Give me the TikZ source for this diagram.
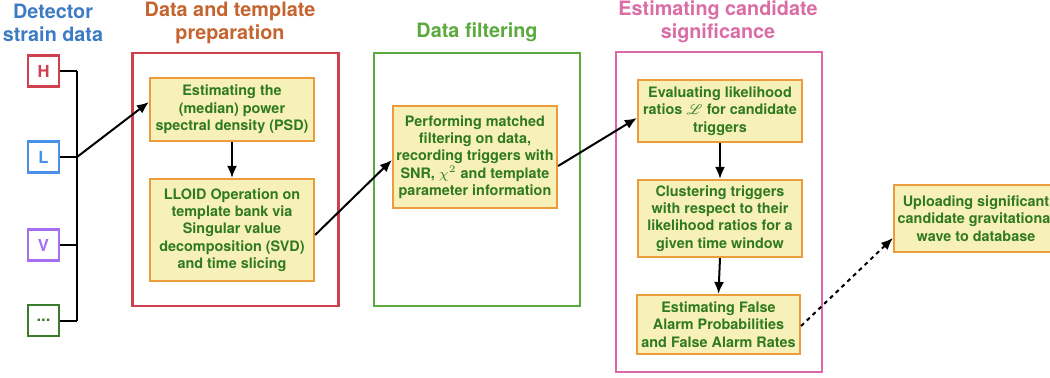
\documentclass[tikz,border=0pt]{standalone}
\usepackage{fontspec}
\setmainfont{TeX Gyre Heros}
\usepackage{mathrsfs}
\usetikzlibrary{arrows.meta}
\definecolor{tblue}{HTML}{3D7CC4}
\definecolor{torange}{HTML}{C5642E}
\definecolor{tgreen}{HTML}{5BAA3E}
\definecolor{tpink}{HTML}{DB6DA6}
\definecolor{gred}{HTML}{D0404F}
\definecolor{gpink}{HTML}{D968A6}
\definecolor{dblue}{HTML}{4A8FE8}
\definecolor{dpurple}{HTML}{A66EF0}
\definecolor{dgreen}{HTML}{3C7A2C}
\definecolor{boxfill}{HTML}{F8F0B9}
\definecolor{boxdraw}{HTML}{EC9C3A}
\definecolor{txtgreen}{HTML}{2F7A1F}
\begin{document}
\begin{tikzpicture}[x=0.5pt,y=-0.5pt,
  proc/.style={draw=boxdraw, fill=boxfill, line width=1.1pt, text=txtgreen,
    font=\bfseries\fontsize{7.2}{8.65}\selectfont, align=center, inner sep=1pt,
    minimum width=82pt},
  grp/.style={line width=1.1pt, minimum width=103pt},
  title/.style={font=\bfseries\fontsize{9.9}{11.5}\selectfont, align=center},
  det/.style={line width=1.1pt, minimum width=15.5pt, minimum height=15.5pt, inner sep=0pt,
    font=\bfseries\fontsize{8.3}{9}\selectfont},
  arr/.style={line width=1pt, -{Latex[length=6pt,width=5pt]}},
  darr/.style={line width=1pt, dash pattern=on 2pt off 2pt, -{Latex[length=6pt,width=5pt]}}
]
\useasboundingbox (0,0) rectangle (1050,377);
% titles
\node[title, text=tblue] (t0) at (53,22.5) {Detector\\strain data};
\node[title, text=torange] (t1) at (230,22.5) {Data and template\\preparation};
\node[title, text=tgreen] (t2) at (477,32) {Data filtering};
\node[title, text=tpink] (t3) at (718,22) {Estimating candidate\\significance};
% groups
\node[grp, draw=gred, minimum height=126.5pt] (g1) at (235.5,179.5) {};
\node[grp, draw=tgreen, minimum height=126.5pt] (g2) at (477,179.5) {};
\node[grp, draw=gpink, minimum height=160pt] (g3) at (719,212) {};
% detectors
\node[det, draw=gred, text=gred] (H) at (43.5,71) {H};
\node[det, draw=dblue, text=dblue] (L) at (43.5,157) {L};
\node[det, draw=dpurple, text=dpurple] (V) at (43.5,245) {V};
\node[det, draw=dgreen, text=dgreen] (D) at (43.5,320.5) {...};
\coordinate (bH) at (77,71);
\coordinate (bL) at (77,157);
\coordinate (bV) at (77,245);
\coordinate (bD) at (77,320.5);
\draw[line width=1pt] (H.east) -- (bH);
\draw[line width=1pt] (L.east) -- (bL);
\draw[line width=1pt] (V.east) -- (bV);
\draw[line width=1pt] (D.east) -- (bD);
\draw[line width=1pt] (bH) -- (bD);
% process boxes
\node[proc, minimum height=31.5pt] (A) at (232,109.5) {Estimating the\\(median) power\\spectral density (PSD)};
\node[proc, minimum height=51pt] (B) at (232,230) {LLOID Operation on\\template bank via\\Singular value\\decomposition (SVD)\\and time slicing};
\node[proc, minimum height=51pt] (C) at (475,157) {Performing matched\\filtering on data,\\recording triggers with\\SNR, $\chi^2$ and template\\parameter information};
\node[proc, minimum height=31pt] (Dd) at (720,111) {Evaluating likelihood\\ratios $\mathscr{L}$ for candidate\\triggers};
\node[proc, minimum height=38.5pt] (E) at (720,218.5) {Clustering triggers\\with respect to their\\likelihood ratios for a\\given time window};
\node[proc, minimum height=29.5pt, minimum width=81.5pt] (F) at (718.5,324.5) {Estimating False\\Alarm Probabilities\\and False Alarm Rates};
\node[proc, minimum height=33.5pt] (G) at (976,218.5) {Uploading significant\\candidate gravitational\\wave to database};
% connectors
\draw[arr] (bL) -- ([yshift=3.75pt]A.west);
\draw[arr] (A.south) -- (B.north);
\draw[arr] ([yshift=-2.5pt]B.east) -- ([yshift=-1.5pt]C.west);
\draw[arr] ([yshift=-4.5pt]C.east) -- ([yshift=-3.5pt]Dd.west);
\draw[arr] (Dd.south) -- (E.north);
\draw[arr] (E.south) -- (F.north);
\draw[darr] ([yshift=-0.75pt]F.east) -- ([yshift=-9.75pt]G.west);
\end{tikzpicture}
\end{document}
